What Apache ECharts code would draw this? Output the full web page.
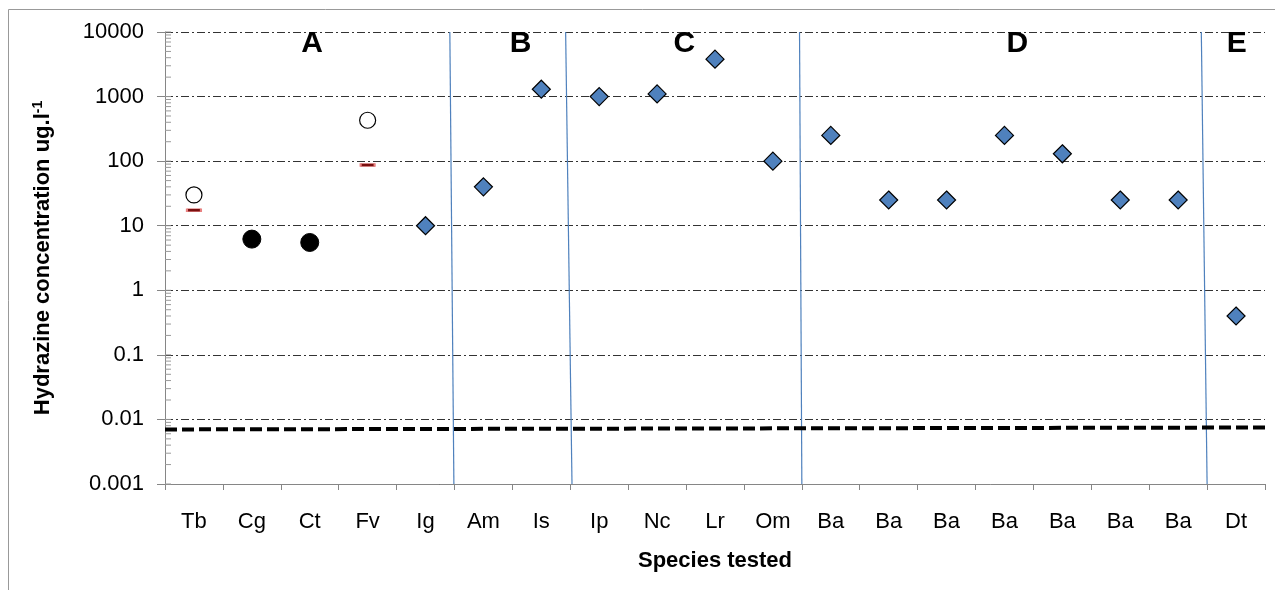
<!DOCTYPE html>
<html><head><meta charset="utf-8">
<script src="https://cdn.jsdelivr.net/npm/echarts@6/dist/echarts.min.js"></script>
<style>html,body{margin:0;padding:0;background:#fff}#c{width:1275px;height:590px}</style>
</head><body><div id="c"></div>
<script>
var categories = ['Tb','Cg','Ct','Fv','Ig','Am','Is','Ip','Nc','Lr','Om','Ba','Ba','Ba','Ba','Ba','Ba','Ba','Dt'];
// open circles (upper values), index -> value
var openCircle = [30, null, null, 430, null, null, null, null, null, null, null, null, null, null, null, null, null, null, null];
// red dash markers
var redDash = [17.3, null, null, 87, null, null, null, null, null, null, null, null, null, null, null, null, null, null, null];
// filled circles
var filledCircle = [null, 6.2, 5.5, null, null, null, null, null, null, null, null, null, null, null, null, null, null, null, null];
// diamonds
var diamond = [null, null, null, null, 10, 40, 1300, 1000, 1100, 3800, 100, 250, 25, 25, 250, 130, 25, 25, 0.4];
// group dividers (category-unit positions, top and bottom)
var dividerTop = [4.92, 6.92, 10.96, 17.9];
var dividerBottom = [4.99, 7.03, 11.0, 18.0];
// dashed threshold line (value at left / right ends)
var thresholdLine = [0.007, 0.0075];
var groupLetters = ['A','B','C','D','E'];
var groupLetterPos = [2.54, 6.14, 8.97, 14.72, 18.51];
// y axis decades (for minor tick marks)
var decades = [0.001, 0.01, 0.1, 1, 10, 100, 1000];
var minorSteps = [1, 2, 3, 4, 5, 6, 7, 8, 9];

var chart = echarts.init(document.getElementById('c'));
var font = 'Liberation Sans, Arial, sans-serif';
var minorTicks = [];
decades.forEach(function(d){ minorSteps.forEach(function(k){ minorTicks.push([0, d*k]); }); });
minorTicks.push([0, 10000]);

var series = [];
series.push({type:'scatter', xAxisIndex:1, data: minorTicks, symbol:'rect', symbolSize:[6,1], symbolOffset:[3,0],
  clip:false, silent:true, itemStyle:{color:'#9a9a9a', opacity:1}, z:2});
series.push({type:'scatter', xAxisIndex:0, data: diamond, symbol:'diamond', symbolSize:[18,18],
  itemStyle:{color:'#4F81BD', borderColor:'#000', borderWidth:1.2, opacity:1}, z:5});
series.push({type:'scatter', xAxisIndex:0, data: filledCircle, symbol:'circle', symbolSize:18,
  itemStyle:{color:'#000', borderColor:'#000', borderWidth:1, opacity:1}, z:5});
series.push({type:'scatter', xAxisIndex:0, data: openCircle, symbol:'circle', symbolSize:16,
  itemStyle:{color:'#fff', borderColor:'#000', borderWidth:1.2, opacity:1}, z:5});
series.push({type:'scatter', xAxisIndex:0, data: redDash, symbol:'rect', symbolSize:[14,3],
  itemStyle:{color:'#7A1010', borderColor:'#E88080', borderWidth:1, opacity:1}, z:5});
for (var i=0;i<dividerTop.length;i++){
  series.push({type:'line', xAxisIndex:1, data:[[dividerTop[i],10000],[dividerBottom[i],0.001]],
    symbol:'none', lineStyle:{color:'#4F81BD', width:1.2}, z:3, silent:true});
}
series.push({type:'line', xAxisIndex:1, data:[[0,thresholdLine[0]],[19.1,thresholdLine[1]]],
  symbol:'none', clip:false, lineStyle:{color:'#000', width:4, type:[12,5]}, z:4, silent:true});
series.push({type:'scatter', xAxisIndex:1, symbolSize:0, itemStyle:{opacity:1},
  data: groupLetters.map(function(l,i){return {value:[groupLetterPos[i],6500], name:l};}),
  label:{show:true, position:'inside', formatter:'{b}', fontFamily:font, fontWeight:'bold', fontSize:30, color:'#000', opacity:1}, z:6});

chart.setOption({
  animation:false,
  graphic:[{type:'rect', shape:{x:8.5,y:9.5,width:1300,height:700}, style:{fill:'none', stroke:'#999', lineWidth:1}, silent:true, z:-10}],
  grid:{left:165, top:32, right:10, bottom:106},
  xAxis:[{
    type:'category', data:categories, boundaryGap:true,
    axisLine:{lineStyle:{color:'#868686', width:1}},
    axisTick:{show:true, length:6, lineStyle:{color:'#868686'}},
    axisLabel:{fontFamily:font, fontSize:22, color:'#000', margin:27, interval:0},
    name:'Species tested', nameLocation:'middle', nameGap:66,
    nameTextStyle:{fontFamily:font, fontWeight:'bold', fontSize:22, color:'#000'}
  },{
    type:'value', min:0, max:19, show:false
  }],
  yAxis:{
    type:'log', logBase:10, min:0.001, max:10000,
    axisLine:{show:true, lineStyle:{color:'#868686'}},
    axisTick:{show:true, length:8, lineStyle:{color:'#868686'}},
    axisLabel:{fontFamily:font, fontSize:22, color:'#000', margin:21,
      formatter:function(v){ return String(+v.toPrecision(3)); }},
    splitLine:{show:true, lineStyle:{color:'#333', width:1, type:[8,3,2,3]}},
    name:'{a|Hydrazine concentration ug.l}{s|-1}', nameLocation:'middle', nameGap:110, nameRotate:90,
    nameTextStyle:{rich:{a:{fontFamily:font, fontWeight:'bold', fontSize:22, color:'#000'},
      s:{fontFamily:font, fontWeight:'bold', fontSize:14, color:'#000', verticalAlign:'top', padding:[0,0,10,0]}}}
  },
  series:series
});
</script></body></html>
